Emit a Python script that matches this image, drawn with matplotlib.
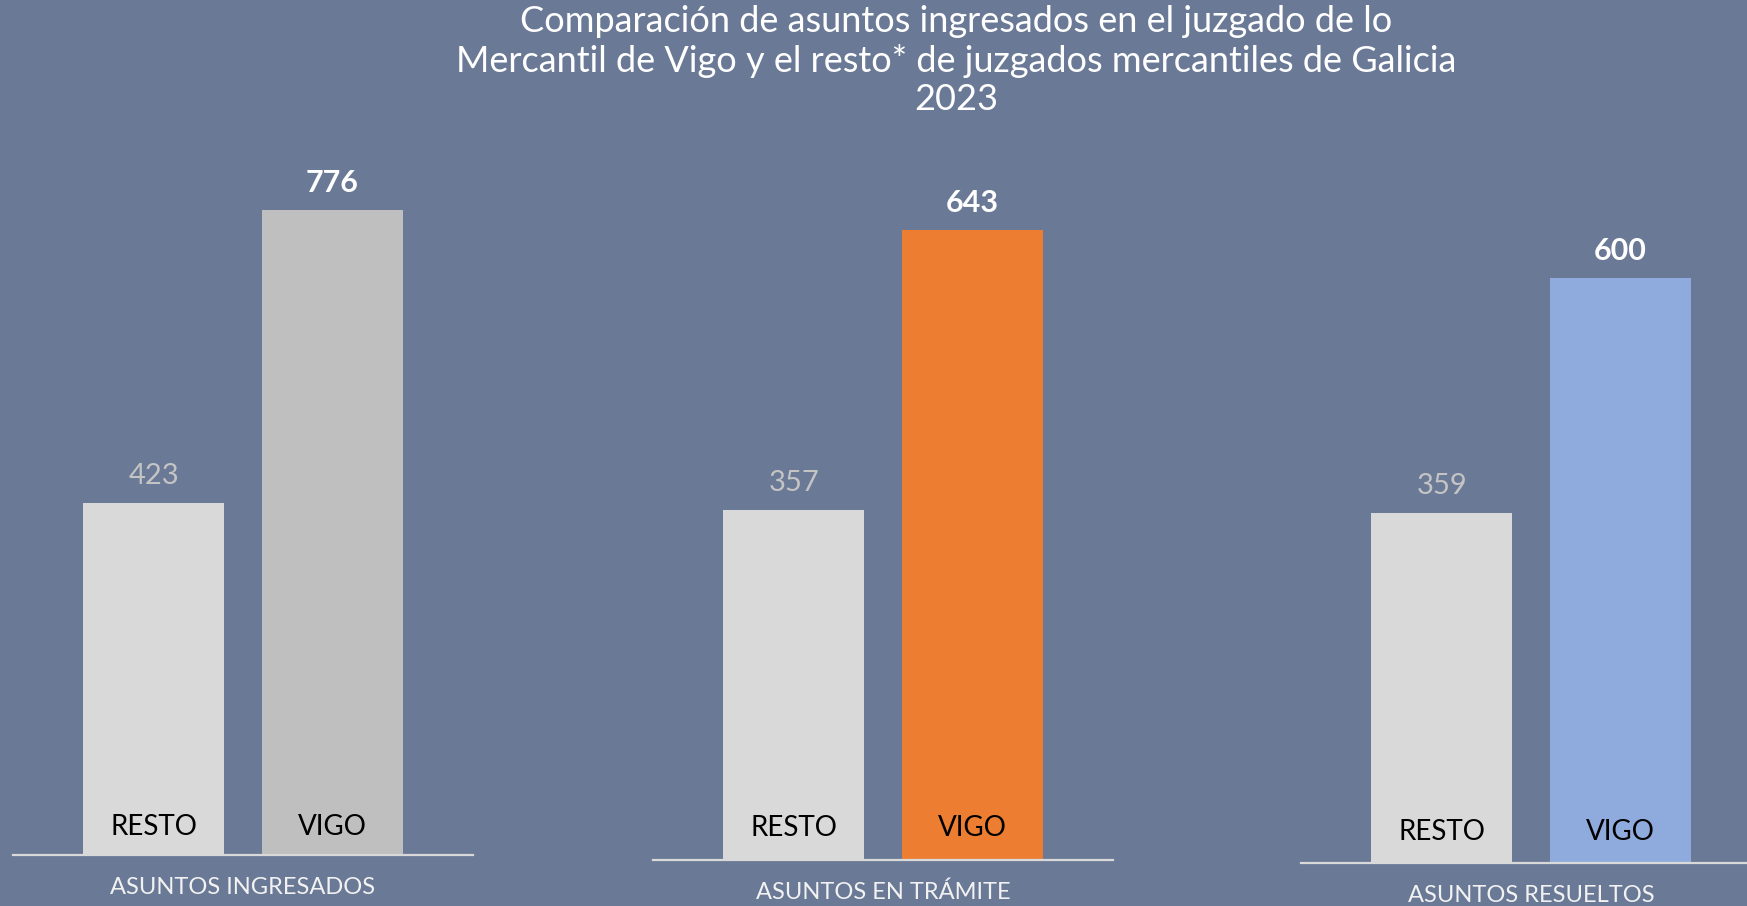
import matplotlib
matplotlib.use("Agg")
import matplotlib.pyplot as plt

# data
categories = ["ASUNTOS INGRESADOS", "ASUNTOS EN TRÁMITE", "ASUNTOS RESUELTOS"]
groups = ["RESTO", "VIGO"]
resto = [423, 357, 359]
vigo = [776, 643, 600]

title = ("Comparación de asuntos ingresados en el juzgado de lo\n"
         "Mercantil de Vigo y el resto* de juzgados mercantiles de Galicia\n"
         "2023")

# style / layout
BG = "#6A7996"
RESTO_COLOR = "#D9D9D9"
VIGO_COLORS = ["#BFBFBF", "#ED7D31", "#8FAADC"]
FONT = ["Lato", "DejaVu Sans"]
W, H = 1747, 906
panel_left = [13, 653, 1301]   # px
panel_width = 460
panel_base = [855, 860, 863]   # px from top
panel_top = 100
panel_ymax = [908, 776, 782]
inner_offset = [28, 32, 31]

plt.rcParams["font.family"] = FONT

fig = plt.figure(figsize=(W / 100, H / 100), dpi=100, facecolor=BG)

fig.text(956 / W, 1 - 61 / H, title, ha="center", va="center",
         fontsize=26, color="white", linespacing=1.2,
         multialignment="center")

for i, cat in enumerate(categories):
    left = panel_left[i] / W
    bottom = 1 - panel_base[i] / H
    height = (panel_base[i] - panel_top) / H
    ax = fig.add_axes([left, bottom, panel_width / W, height])
    ax.set_facecolor("none")
    ax.set_xlim(-0.79, 1.79)
    ax.set_ylim(0, panel_ymax[i])
    for s in ["top", "right", "left"]:
        ax.spines[s].set_visible(False)
    ax.spines["bottom"].set_color("#D9D9D9")
    ax.spines["bottom"].set_linewidth(1.6)
    ax.set_xticks([])
    ax.set_yticks([])

    vals = [resto[i], vigo[i]]
    colors = [RESTO_COLOR, VIGO_COLORS[i]]
    ax.bar([0, 1], vals, width=0.79, color=colors, zorder=1)

    # value labels above bars
    ax.annotate(f"{resto[i]}", xy=(0, resto[i]), xytext=(0, 27),
                textcoords="offset pixels", ha="center", va="center",
                fontsize=21, color="#C4C4C4")
    ax.annotate(f"{vigo[i]}", xy=(1, vigo[i]), xytext=(0, 27),
                textcoords="offset pixels", ha="center", va="center",
                fontsize=22, color="white", fontweight="bold")

    # group names inside bars
    for x, g in enumerate(groups):
        ax.annotate(g, xy=(x, 0), xytext=(0, inner_offset[i]),
                    textcoords="offset pixels", ha="center", va="center",
                    fontsize=20, color="black")

    # category label under baseline
    ax.annotate(cat, xy=(0.5, 0), xycoords="axes fraction", xytext=(0, -32),
                textcoords="offset pixels", ha="center", va="center",
                fontsize=17, color="#F2F2F2")

fig.savefig("out.png", dpi=100, facecolor=BG)
